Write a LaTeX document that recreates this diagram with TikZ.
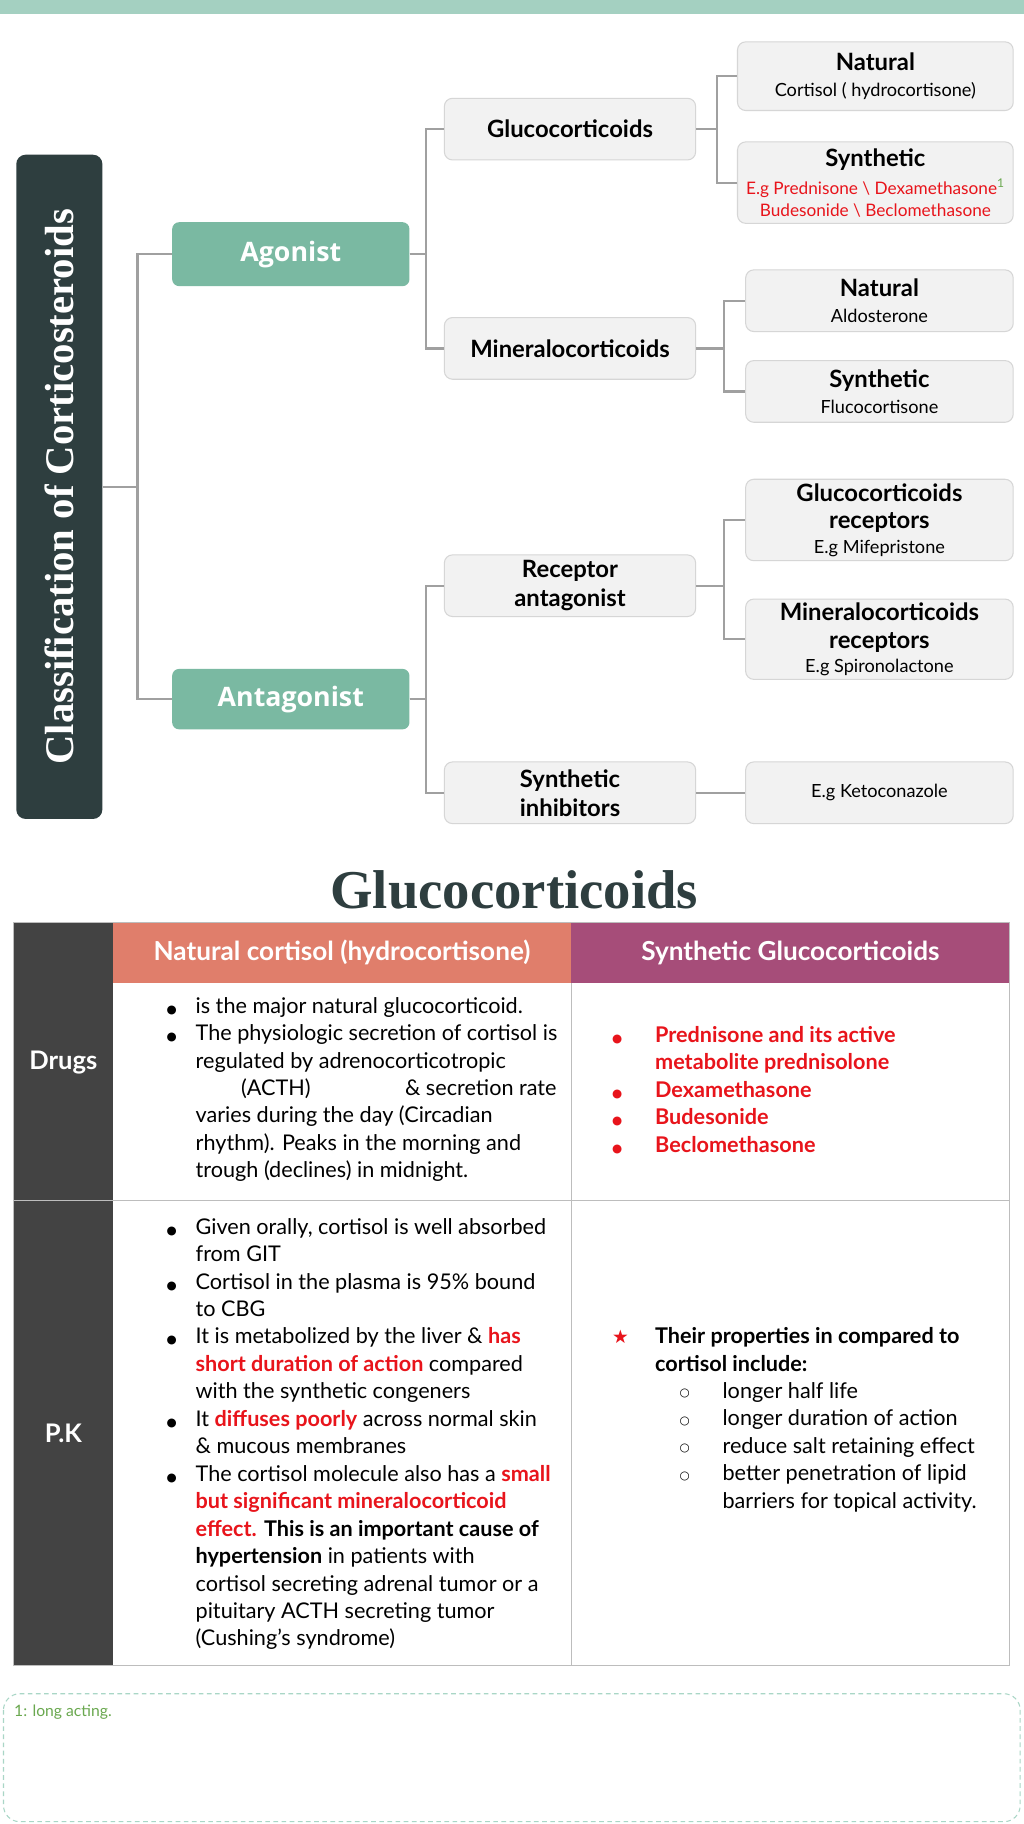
\documentclass[tikz,border=0pt]{standalone}
\usepackage{fontspec}
\setmainfont{Lato}
\newfontfamily\serifhead{Liberation Serif}
\newfontfamily\opensans{Open Sans}
\newfontfamily\symfont{DejaVu Sans}
\usepackage{xcolor}
\usepackage{tikz}
\usetikzlibrary{positioning,calc}
\definecolor{slate}{HTML}{2E3E3F}
\definecolor{sage}{HTML}{7AB9A2}
\definecolor{topbar}{HTML}{A4D0C1}
\definecolor{boxbg}{HTML}{F2F2F2}
\definecolor{linec}{HTML}{D6D6D6}
\definecolor{connc}{HTML}{A0A0A0}
\definecolor{redt}{HTML}{E8141B}
\definecolor{fngreen}{HTML}{6AA84F}
\definecolor{fnline}{HTML}{A9D6C6}
\definecolor{salmon}{HTML}{E07E6B}
\definecolor{plum}{HTML}{A64D79}
\definecolor{colgray}{HTML}{434343}
\definecolor{gridc}{HTML}{BDBDBD}
\newcommand\boxhead{\fontsize{20.5}{24}\selectfont\bfseries}
\newcommand\bul{\makebox[25pt][l]{\symfont\fontsize{10}{10}\selectfont ●}}
\newcommand\ind{\hspace*{25pt}}
\newcommand\rbul{\makebox[37pt][l]{\color{redt}\symfont\fontsize{10}{10}\selectfont ●}}
\newcommand\rind{\hspace*{37pt}}
\newcommand\sbul{\hspace*{58pt}\makebox[37pt][l]{\raisebox{1.5pt}{\symfont\fontsize{10}{10}\selectfont ○}}}
\newcommand\rd[1]{{\color{redt}\bfseries #1}}
\tikzset{
  box/.style={rectangle, rounded corners=7pt, draw=linec, fill=boxbg, line width=0.9pt,
              align=center, inner sep=2pt, font=\fontsize{15.6}{19}\selectfont},
  grnbox/.style={rectangle, rounded corners=6pt, fill=sage, text=white, inner sep=2pt,
                 font=\opensans\bfseries\fontsize{23}{26}\selectfont, minimum width=204pt},
  conn/.style={draw=connc, line width=1.9pt},
  cell/.style={anchor=north west, align=left, inner sep=0pt, font=\fontsize{18.6}{23.6}\selectfont},
  hdtext/.style={text=white, font=\bfseries\fontsize{22.5}{26}\selectfont, inner sep=0pt},
  rowlab/.style={text=white, font=\bfseries\fontsize{22}{24}\selectfont, inner sep=0pt},
}
\begin{document}
\begin{tikzpicture}[x=1pt, y=-1pt,
   wide/.style={box, minimum width=237pt},
   mid/.style={box, minimum width=230pt},
   sub/.style={box, minimum width=216pt, minimum height=53pt}]
  \useasboundingbox (0,0) rectangle (880,1568);
  \fill[white] (0,0) rectangle (880,1568);
  \fill[topbar] (0,0) rectangle (880,12);

  \node[rectangle, rounded corners=8pt, fill=slate, text=white, minimum width=74pt, minimum height=571pt,
        inner sep=0pt, font=\serifhead\bfseries\fontsize{35}{40}\selectfont] (root) at (51,418.5)
        {\rotatebox{90}{Classification of Corticosteroids}};
  \node[grnbox, minimum height=55pt] (ago) at (250,218.5) {Agonist};
  \node[grnbox, minimum height=52pt] (antago) at (250,601) {Antagonist};

  \node[sub] (gluco) at (490,111) {\boxhead Glucocorticoids};
  \node[sub] (mineral) at (490,299.5) {\boxhead Mineralocorticoids};
  \node[sub] (recant) at (490,503.5) {\boxhead Receptor\\[6pt]\boxhead antagonist};
  \node[sub] (synin) at (490,681.5) {\boxhead Synthetic\\[6pt]\boxhead inhibitors};

  \node[wide, minimum height=59pt] (gnat) at (752.5,65.5) {\boxhead Natural\\[3pt]Cortisol ( hydrocortisone)};
  \node[wide, minimum height=70pt] (gsyn) at (752.5,157)
       {\boxhead Synthetic\\[5pt]\fontsize{14.8}{19}\selectfont{\color{redt}E.g Prednisone \textbackslash{} Dexamethasone}\textsuperscript{\color{fngreen}1}\\[0pt]
        \fontsize{14.8}{19}\selectfont{\color{redt}Budesonide \textbackslash{} Beclomethasone}};
  \node[mid, minimum height=53pt] (mnat) at (756,258.5) {\boxhead Natural\\[3pt]Aldosterone};
  \node[mid, minimum height=53pt] (msyn) at (756,336.5) {\boxhead Synthetic\\[3pt]Flucocortisone};
  \node[mid, minimum height=70pt] (grec) at (756,447) {\boxhead Glucocorticoids\\[5pt]\boxhead receptors\\[2pt]E.g Mifepristone};
  \node[mid, minimum height=69pt] (mrec) at (756,549.5) {\boxhead Mineralocorticoids\\[5pt]\boxhead receptors\\[2pt]E.g Spironolactone};
  \node[mid, minimum height=53pt] (keto) at (756,681.5) {E.g Ketoconazole};

  \draw[conn] (root.east) -- ++(30,0) |- (ago.west);
  \draw[conn] (root.east) -- ++(30,0) |- (antago.west);
  \draw[conn] (ago.east) -- ++(14,0) |- (gluco.west);
  \draw[conn] (ago.east) -- ++(14,0) |- (mineral.west);
  \draw[conn] (antago.east) -- ++(14,0) |- (recant.west);
  \draw[conn] (antago.east) -- ++(14,0) |- (synin.west);
  \draw[conn] (gluco.east) -- ++(18,0) |- (gnat.west);
  \draw[conn] (gluco.east) -- ++(18,0) |- (gsyn.west);
  \draw[conn] (mineral.east) -- ++(24,0) |- (mnat.west);
  \draw[conn] (mineral.east) -- ++(24,0) |- (msyn.west);
  \draw[conn] (recant.east) -- ++(24,0) |- (grec.west);
  \draw[conn] (recant.east) -- ++(24,0) |- (mrec.west);
  \draw[conn] (synin.east) -- (keto.west);

  % table
  \node[text=slate, font=\serifhead\bfseries\fontsize{47}{50}\selectfont, inner sep=0pt] (gtitle) at (442,765) {Glucocorticoids};
  \fill[colgray] (12,793) rectangle (97,1432);
  \fill[salmon] (97,793) rectangle (491,845);
  \fill[plum] (491,793) rectangle (868,845);
  \draw[gridc, line width=0.9pt] (12,793) rectangle (868,1432);
  \draw[gridc, line width=0.9pt] (12,1032) -- (868,1032);
  \draw[gridc, line width=0.9pt] (491,845) -- (491,1432);
  \node[hdtext] (hnat) at (294,819) {Natural cortisol (hydrocortisone)};
  \node[hdtext] (hsyn) at (679.5,819) {Synthetic Glucocorticoids};
  \node[rowlab] (drugs) at (54.5,913) {Drugs};
  \node[rowlab] (pk) at (54.5,1232) {P.K};

  \node[cell] (natdrug) at (143,857) {\bul is the major natural glucocorticoid.\\
    \bul The physiologic secretion of cortisol is\\
    \ind regulated by adrenocorticotropic\\
    \ind\hspace*{39pt}\makebox[141pt][l]{(ACTH)}\& secretion rate\\
    \ind varies during the day (Circadian\\
    \ind rhythm). Peaks in the morning and\\
    \ind trough (declines) in midnight.};
  \node[cell, text=redt, font=\bfseries\fontsize{18.6}{23.6}\selectfont] (syndrug) at (526,882)
    {\rbul Prednisone and its active\\
    \rind metabolite prednisolone\\
    \rbul Dexamethasone\\
    \rbul Budesonide\\
    \rbul Beclomethasone};
  \node[cell] (natpk) at (143,1047) {\bul Given orally, cortisol is well absorbed\\
    \ind from GIT\\
    \bul Cortisol in the plasma is 95\% bound\\
    \ind to CBG\\
    \bul It is metabolized by the liver \& \rd{has}\\
    \ind\rd{short duration of action} compared\\
    \ind with the synthetic congeners\\
    \bul It \rd{diffuses poorly} across normal skin\\
    \ind\& mucous membranes\\
    \bul The cortisol molecule also has a \rd{small}\\
    \ind\rd{but significant mineralocorticoid}\\
    \ind\rd{effect.} \textbf{This is an important cause of}\\
    \ind\textbf{hypertension} in patients with\\
    \ind cortisol secreting adrenal tumor or a\\
    \ind pituitary ACTH secreting tumor\\
    \ind(Cushing’s syndrome)};
  \node[cell] (synpk) at (526,1141)
    {\makebox[37pt][l]{\color{redt}\symfont\fontsize{16}{16}\selectfont ★}\textbf{Their properties in compared to}\\
    \rind\textbf{cortisol include:}\\
    \sbul longer half life\\
    \sbul longer duration of action\\
    \sbul reduce salt retaining effect\\
    \sbul better penetration of lipid\\
    \hspace*{95pt}barriers for topical activity.};

  \draw[fnline, line width=0.9pt, dash pattern=on 4pt off 3pt, rounded corners=14pt] (3,1456) rectangle (877,1566);
  \node[anchor=west, text=fngreen, font=\fontsize{13.5}{15}\selectfont, inner sep=0pt] (fn) at (12,1472) {1: long acting.};
\end{tikzpicture}
\end{document}
